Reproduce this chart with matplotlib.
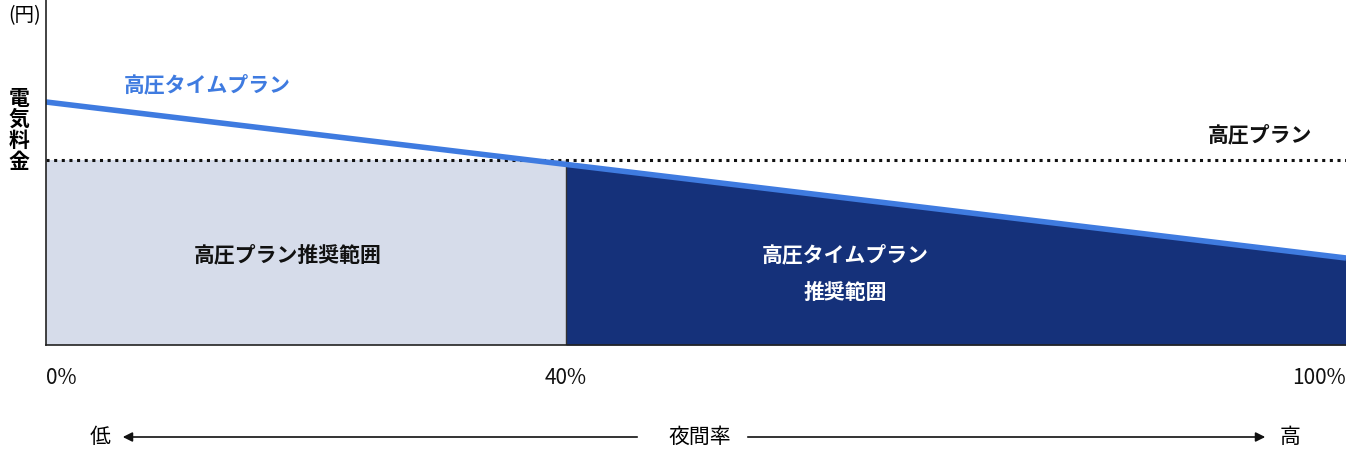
import matplotlib
matplotlib.use("Agg")
import numpy as np
import matplotlib.pyplot as plt

plt.rcParams["font.family"] = ["Noto Sans CJK JP", "DejaVu Sans"]

# data (x: night-time ratio %, y: relative cost)
x_time = [0, 100]
y_time = [243, 87]          # 高圧タイムプラン
flat_cost = 185             # 高圧プラン
split = 40                  # boundary %
tick_pos = [0, 40, 100]
tick_lbl = ["0%", "40%", "100%"]

W, H = 1346, 469
fig = plt.figure(figsize=(W / 100, H / 100), dpi=100)
ax = fig.add_axes([46 / W, (H - 345) / H, 1300 / W, 345 / H])
ax.set_xlim(0, 100)
ax.set_ylim(0, 345)

xs = np.linspace(0, 100, 201)
yt = np.interp(xs, x_time, y_time)
m = xs <= split
ax.fill_between(xs[m], 0, flat_cost, color="#d6dcea", lw=0)
ax.fill_between(xs[xs >= split], 0, yt[xs >= split], color="#15317a", lw=0)
ax.plot([split, split], [0, flat_cost], color="#333333", lw=1)
ax.axhline(flat_cost, color="#111111", lw=2.2, ls=(0, (1, 1.5)))
ax.plot(x_time, y_time, color="#3f7be0", lw=4, solid_capstyle="butt")

for s in ["top", "right"]:
    ax.spines[s].set_visible(False)
for s in ["left", "bottom"]:
    ax.spines[s].set_color("#222222")
    ax.spines[s].set_linewidth(1.2)
ax.set_xticks([])
ax.set_yticks([])

def ftext(px, py, s, **kw):
    fig.text(px / W, 1 - py / H, s, **kw)

bold = dict(fontweight="bold", fontsize=15)
ftext(124, 85, "高圧タイムプラン", color="#3f7be0", va="center", **bold)
ftext(1312, 135, "高圧プラン", color="#111111", va="center", ha="right", **bold)
ftext(288, 255, "高圧プラン推奨範囲", color="#111111", ha="center", va="center", **bold)
ftext(845, 255, "高圧タイムプラン", color="white", ha="center", va="center", **bold)
ftext(845, 292, "推奨範囲", color="white", ha="center", va="center", **bold)
ftext(25, 16, "(円)", ha="center", va="center", fontsize=14)
ftext(19, 130, "電\n気\n料\n金", ha="center", va="center", linespacing=1.0, **bold)

for p, l in zip(tick_pos, tick_lbl):
    px = 46 + p / 100 * 1300
    ha = "left" if p == 0 else ("right" if p == 100 else "center")
    if p == 0:
        px = 46
    ftext(px, 378, l, ha=ha, va="center", fontsize=15, color="#111111")

ftext(100, 437, "低", ha="center", va="center", fontsize=15)
ftext(1290, 437, "高", ha="center", va="center", fontsize=15)
ftext(700, 437, "夜間率", ha="center", va="center", fontsize=15)
y_ar = 1 - 437 / H
for x0, x1 in [(640, 120), (745, 1268)]:
    fig.add_artist(matplotlib.patches.FancyArrowPatch(
        (x0 / W, y_ar), (x1 / W, y_ar), transform=fig.transFigure,
        arrowstyle="-|>", mutation_scale=14, lw=1.2, color="#111111"))

fig.savefig("out.png", dpi=100)
